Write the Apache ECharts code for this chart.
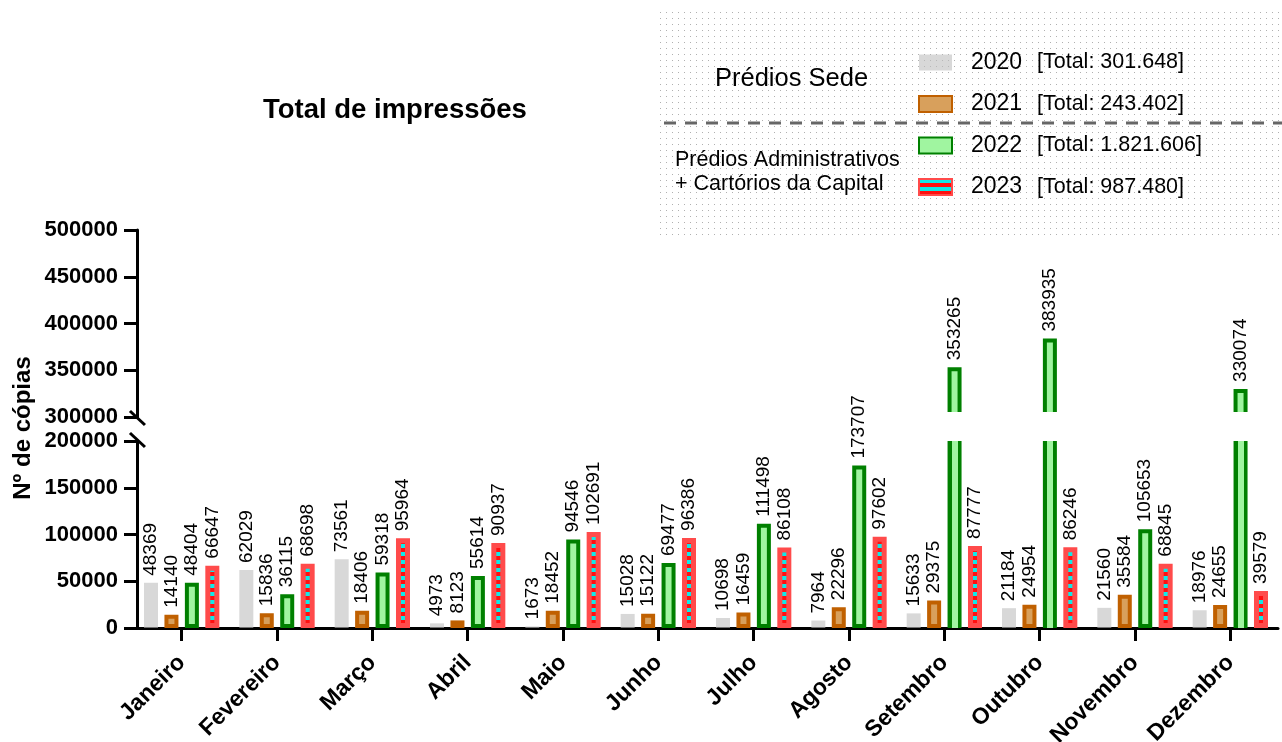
<!DOCTYPE html>
<html>
<head>
<meta charset="utf-8">
<script src="https://cdn.jsdelivr.net/npm/echarts@6/dist/echarts.min.js"></script>
<style>
  html, body { margin: 0; padding: 0; background: #fff; }
  #chart { width: 1282px; height: 742px; }
</style>
</head>
<body>
<div id="chart"></div>
<script>
var months = ['Janeiro', 'Fevereiro', 'Março', 'Abril', 'Maio', 'Junho', 'Julho', 'Agosto', 'Setembro', 'Outubro', 'Novembro', 'Dezembro'];
var years = ['2020', '2021', '2022', '2023'];
var v2020 = [48369, 62029, 73561, 4973, 1673, 15028, 10698, 7964, 15633, 21184, 21560, 18976];
var v2021 = [14140, 15836, 18406, 8123, 18452, 15122, 16459, 22296, 29375, 24954, 35584, 24655];
var v2022 = [48404, 36115, 59318, 55614, 94546, 69477, 111498, 173707, 353265, 383935, 105653, 330074];
var v2023 = [66647, 68698, 95964, 90937, 102691, 96386, 86108, 97602, 87777, 86246, 68845, 39579];
var lowerTicks = [0, 200000, 50000];   // min, max, interval
var upperTicks = [300000, 500000, 50000];

var FONT = '"Liberation Sans", Arial, sans-serif';

// padrões (pontos do fundo da legenda e xadrez do 2023)
function dotPattern () {
  var c = document.createElement('canvas');
  c.width = 6; c.height = 6;
  var ctx = c.getContext('2d');
  ctx.fillStyle = '#b0b0b0';
  ctx.fillRect(0, 0, 1, 1);
  return { image: c, repeat: 'repeat' };
}
function checkPattern () {
  var c = document.createElement('canvas');
  c.width = 4; c.height = 8;
  var ctx = c.getContext('2d');
  ctx.fillStyle = '#ff1010';
  ctx.fillRect(0, 0, 4, 8);
  ctx.fillStyle = '#10e8e8';
  ctx.fillRect(0, 0, 4, 4);
  return { image: c, repeat: 'repeat' };
}

var BAR_W = 14;
var styles = [
  { color: 'rgba(190,190,190,0.6)', borderWidth: 0 },
  { color: '#d8a05c', borderColor: '#c06000', borderWidth: 4 },
  { color: '#a0f5a0', borderColor: '#008000', borderWidth: 4 },
  { color: checkPattern(), borderColor: '#ff4b4b', borderWidth: 5 }
];
var values = [v2020, v2021, v2022, v2023];

// barra "cortada" no topo: laterais coloridas sem a tampa de cima
function sideGradient (s) {
  if (!s.borderWidth || typeof s.color !== 'string') return s;
  var f = s.borderWidth / BAR_W;
  return {
    borderWidth: 0,
    color: new echarts.graphic.LinearGradient(0, 0, 1, 0, [
      { offset: 0, color: s.borderColor }, { offset: f, color: s.borderColor },
      { offset: f, color: s.color }, { offset: 1 - f, color: s.color },
      { offset: 1 - f, color: s.borderColor }, { offset: 1, color: s.borderColor }
    ])
  };
}

function fmtThousands (n) {
  return String(n).replace(/\B(?=(\d{3})+(?!\d))/g, '.');
}
var totals = {};
years.forEach(function (y, i) {
  totals[y] = values[i].reduce(function (a, b) { return a + b }, 0);
});

var labelStyle = {
  show: true,
  position: 'top',
  rotate: 90,
  align: 'left',
  verticalAlign: 'middle',
  distance: 7,
  fontSize: 19,
  fontFamily: FONT,
  color: '#000'
};

var series = [];
years.forEach(function (y, i) {
  // parte de baixo (0 - 200000)
  series.push({
    name: y,
    type: 'bar',
    xAxisIndex: 0,
    yAxisIndex: 0,
    z: 2,
    barWidth: BAR_W,
    barGap: '46%',
    clip: true,
    itemStyle: styles[i],
    label: labelStyle,
    data: values[i].map(function (v) {
      var cut = v > lowerTicks[1];
      return cut
        ? { value: v, label: { show: false }, itemStyle: sideGradient(styles[i]) }
        : { value: v };
    })
  });
  // parte de cima (300000 - 500000)
  series.push({
    name: y,
    type: 'bar',
    xAxisIndex: 1,
    yAxisIndex: 1,
    z: 1,
    barWidth: BAR_W,
    barGap: '46%',
    clip: true,
    itemStyle: styles[i],
    label: labelStyle,
    data: values[i].map(function (v) { return v > upperTicks[0] ? v : '-' })
  });
});

var axisLine = { show: true, lineStyle: { color: '#000', width: 3 } };
var axisTick = { show: true, length: 13, lineStyle: { color: '#000', width: 3 } };
var yLabel = {
  fontSize: 22, fontWeight: 'bold', fontFamily: FONT, color: '#000', margin: 19,
  formatter: function (v) { return String(v) }
};

var option = {
  animation: false,
  textStyle: { fontFamily: FONT },
  title: {
    text: 'Total de impressões',
    left: 258,
    top: 91,
    textStyle: { fontSize: 27.5, fontWeight: 'bold', color: '#000', fontFamily: FONT }
  },
  legend: {
    data: years,
    orient: 'vertical',
    left: 918,
    top: 51,
    padding: 0,
    icon: 'rect',
    itemWidth: 33,
    itemHeight: 16,
    itemGap: 18.5,
    formatter: function (name) {
      return '{y|' + name + '}{t|[Total: ' + fmtThousands(totals[name]) + ']}';
    },
    textStyle: {
      rich: {
        y: { fontSize: 23, width: 52, padding: [0, 14, 0, 14], color: '#000', fontFamily: FONT },
        t: { fontSize: 21.5, color: '#000', fontFamily: FONT }
      }
    }
  },
  grid: [
    { left: 134, right: 4, top: 441, height: 187, outerBoundsMode: 'none', containLabel: false },
    { left: 134, right: 4, top: 230, height: 187, outerBoundsMode: 'none', containLabel: false }
  ],
  xAxis: [
    {
      type: 'category',
      gridIndex: 0,
      data: months,
      axisLine: axisLine,
      axisTick: { show: true, alignWithLabel: true, length: 13, lineStyle: { color: '#000', width: 3 } },
      axisLabel: { rotate: 45, interval: 0, margin: 31, fontSize: 23, fontWeight: 'bold', fontFamily: FONT, color: '#000' }
    },
    { type: 'category', gridIndex: 1, data: months, show: false }
  ],
  yAxis: [
    {
      type: 'value', gridIndex: 0,
      min: lowerTicks[0], max: lowerTicks[1], interval: lowerTicks[2],
      offset: -3,
      axisLine: axisLine, axisTick: axisTick, axisLabel: yLabel,
      splitLine: { show: false }
    },
    {
      type: 'value', gridIndex: 1,
      min: upperTicks[0], max: upperTicks[1], interval: upperTicks[2],
      offset: -3,
      axisLine: axisLine, axisTick: axisTick, axisLabel: yLabel,
      splitLine: { show: false }
    }
  ],
  graphic: [
    // fundo pontilhado da legenda
    { type: 'rect', z: -10, shape: { x: 660, y: 10, width: 622, height: 230 }, style: { fill: dotPattern() } },
    { type: 'text', left: 715, top: 66, style: { text: 'Prédios Sede', fontSize: 25.5, fontFamily: FONT, fill: '#000' } },
    { type: 'line', shape: { x1: 664, y1: 123, x2: 1282, y2: 123 }, style: { stroke: '#666', lineWidth: 3, lineDash: [12, 9] } },
    { type: 'text', left: 675, top: 148, style: { text: 'Prédios Administrativos\n+ Cartórios da Capital', fontSize: 21.5, lineHeight: 24, fontFamily: FONT, fill: '#000' } },
    // título do eixo y
    { type: 'text', x: 23, y: 428, rotation: Math.PI / 2, style: { text: 'Nº de cópias', fontSize: 24, fontWeight: 'bold', fontFamily: FONT, fill: '#000', align: 'center', verticalAlign: 'middle' } }
  ],
  series: series
};

var chart = echarts.init(document.getElementById('chart'));
chart.setOption(option);

// corte do eixo: faixa branca (entre as barras de cima e as de baixo) e as barrinhas diagonais
var yTop = chart.convertToPixel({ yAxisIndex: 1 }, upperTicks[0]);
var yBot = chart.convertToPixel({ yAxisIndex: 0 }, lowerTicks[1]);
var axX = chart.convertToPixel({ xAxisIndex: 0 }, months[0]) - 47.7 + 3;
option.graphic.push(
  { type: 'rect', z: 1.5, shape: { x: axX + 3, y: yTop - 5, width: 1282 - axX, height: yBot - yTop + 5 }, style: { fill: '#fff' } },
  { type: 'line', z: 60, shape: { x1: axX - 7, y1: yTop - 6, x2: axX + 8, y2: yTop + 8 }, style: { stroke: '#000', lineWidth: 3 } },
  { type: 'line', z: 60, shape: { x1: axX - 7, y1: yBot - 8, x2: axX + 8, y2: yBot + 6 }, style: { stroke: '#000', lineWidth: 3 } }
);
chart.setOption({ graphic: option.graphic });
</script>
</body>
</html>
